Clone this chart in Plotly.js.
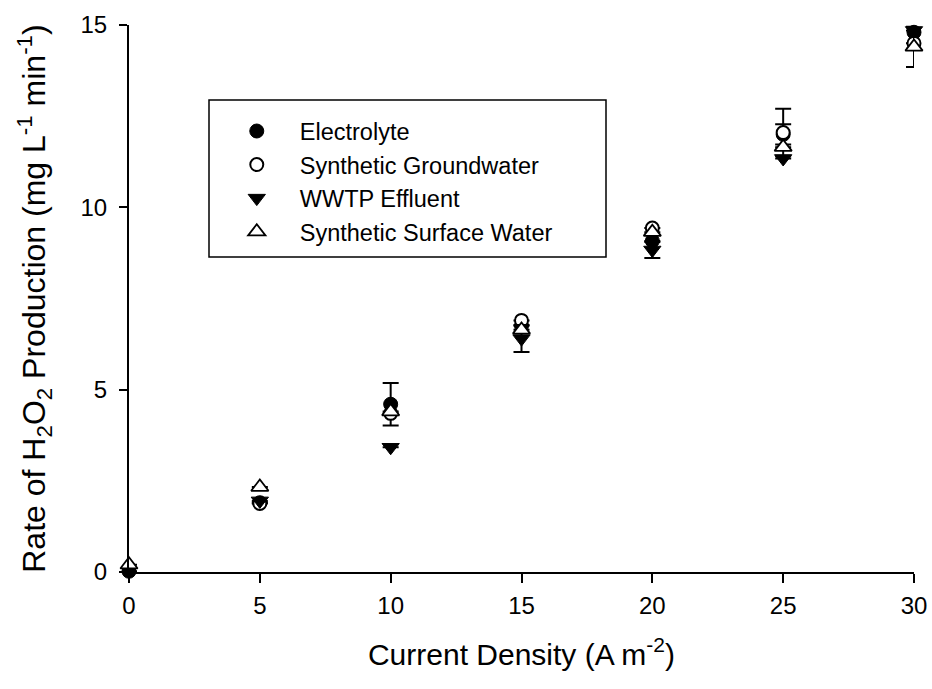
<!DOCTYPE html>
<html>
<head>
<meta charset="utf-8">
<script src="https://cdn.plot.ly/plotly-3.0.1.min.js"></script>
<style>html,body{margin:0;padding:0;background:#fff;}#chart{width:932px;height:689px;}</style>
</head>
<body>
<div id="chart"></div>
<script>
const currentDensity = [0, 5, 10, 15, 20, 25, 30];

const electrolyte      = [0.02, 1.90, 4.60, 6.75, 9.08, 12.00, 14.80];
const electrolyteErr   = [null, null, 0.58, null, null, 0.28, 0.45];

const groundwater      = [-0.02, 1.88, 4.35, 6.90, 9.43, 12.05, 14.50];
const groundwaterErr   = [null, null, null, null, null, 0.65, null];

const wwtp             = [-0.02, 1.95, 3.42, 6.40, 8.83, 11.34, 14.85];
const wwtpErr          = [null, null, null, 0.37, 0.22, null, null];

const surface          = [0.20, 2.33, 4.40, 6.64, 9.32, 11.65, 14.40];
const surfaceErr       = [null, null, null, null, null, null, 0.55];

const seriesNames = ["Electrolyte", "Synthetic Groundwater", "WWTP Effluent", "Synthetic Surface Water"];

function errObj(arr) {
  return {type: 'data', symmetric: true, array: arr, color: '#000', thickness: 2, width: 8, visible: true};
}

const common = {x: currentDensity, mode: 'markers', type: 'scatter', cliponaxis: false};

const traces = [
  Object.assign({}, common, {name: seriesNames[0], y: electrolyte, error_y: errObj(electrolyteErr),
    marker: {symbol: 'circle', size: 14, color: '#000', line: {color: '#000', width: 1}}}),
  Object.assign({}, common, {name: seriesNames[1], y: groundwater, error_y: errObj(groundwaterErr),
    marker: {symbol: 'circle', size: 13, color: '#fff', line: {color: '#000', width: 2}}}),
  Object.assign({}, common, {name: seriesNames[2], y: wwtp, error_y: errObj(wwtpErr),
    marker: {symbol: 'triangle-down', size: 15, color: '#000', line: {color: '#000', width: 1}}}),
  Object.assign({}, common, {name: seriesNames[3], y: surface, error_y: errObj(surfaceErr),
    marker: {symbol: 'triangle-up', size: 15, color: '#fff', line: {color: '#000', width: 1.8}}})
];

const font = "Liberation Sans, Arial, sans-serif";

const layout = {
  width: 932, height: 689,
  margin: {l: 129, r: 18, t: 25, b: 117},
  paper_bgcolor: '#fff', plot_bgcolor: '#fff',
  font: {family: font, color: '#000', size: 24},
  showlegend: true,
  legend: {
    x: 0.108, y: 0.846, xanchor: 'left', yanchor: 'top',
    bgcolor: 'rgba(0,0,0,0)', borderwidth: 0,
    font: {family: font, size: 23.5, color: '#000'},
    traceorder: 'normal', itemwidth: 76
  },
  shapes: [{
    type: 'rect', xref: 'paper', yref: 'paper',
    x0: (209 - 129) / 785, x1: (606 - 129) / 785,
    y0: (572 - 257) / 547, y1: (572 - 100) / 547,
    line: {color: '#000', width: 1.5}, fillcolor: 'rgba(0,0,0,0)', layer: 'below'
  }],
  xaxis: {
    range: [0, 30], tickvals: [0, 5, 10, 15, 20, 25, 30],
    showgrid: false, zeroline: false, showline: true, linecolor: '#000', linewidth: 2,
    ticks: 'outside', ticklen: 9, tickwidth: 2, tickcolor: '#000', ticklabelstandoff: 2,
    tickfont: {family: font, size: 24, color: '#000'},
    title: {text: 'Current Density (A m<sup>-2</sup>)', font: {family: font, size: 30, color: '#000'}, standoff: 26}
  },
  yaxis: {
    range: [0, 15], tickvals: [0, 5, 10, 15],
    showgrid: false, zeroline: false, showline: true, linecolor: '#000', linewidth: 2,
    ticks: 'outside', ticklen: 8, tickwidth: 2, tickcolor: '#000', ticklabelstandoff: 7,
    tickfont: {family: font, size: 24, color: '#000'},
    title: {text: 'Rate of H<sub>2</sub>O<sub>2</sub> Production (mg L<sup>-1</sup> min<sup>-1</sup>)', font: {family: font, size: 32, color: '#000'}, standoff: 25}
  }
};

Plotly.newPlot('chart', traces, layout, {displayModeBar: false, staticPlot: true});
</script>
</body>
</html>
